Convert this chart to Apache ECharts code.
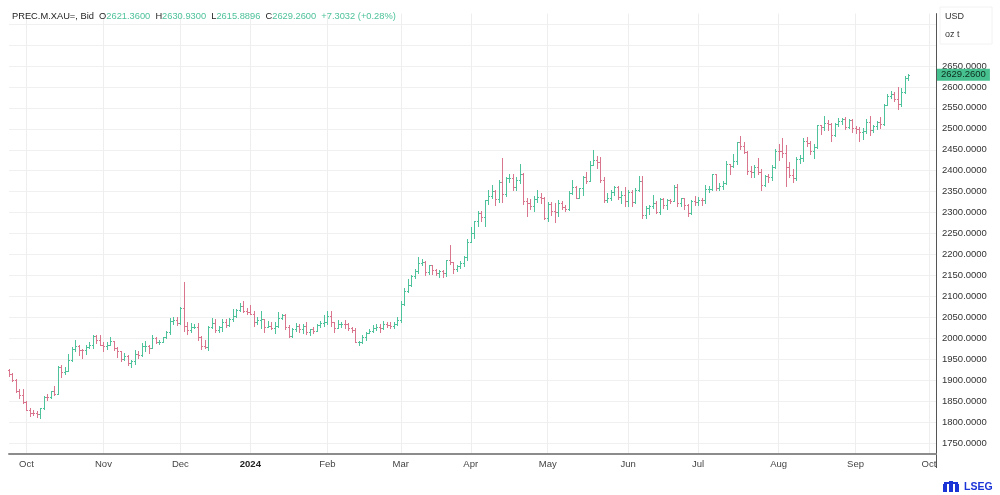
<!DOCTYPE html>
<html>
<head>
<meta charset="utf-8">
<title>PREC.M.XAU=</title>
<script src="https://cdn.jsdelivr.net/npm/echarts@6/dist/echarts.min.js"></script>
<style>
  html, body { margin: 0; padding: 0; background: #fff; }
  #chart { width: 1000px; height: 495px; }
</style>
</head>
<body>
<div id="chart"></div>
<script>
// trading calendar (weekdays, minus market holidays)
var firstDay = '2023-09-25';
var lastDay = '2024-10-03';
var holidays = ['2023-12-25', '2024-01-01', '2024-03-29'];
var monthNames = ['Jan', 'Feb', 'Mar', 'Apr', 'May', 'Jun', 'Jul', 'Aug', 'Sep', 'Oct', 'Nov', 'Dec'];

// daily bars, one per trading day from firstDay: [open, high, low, close]
var bars = [
    // Sep 2023
    [1925, 1926, 1911, 1915], [1915, 1917, 1898, 1901], [1901, 1903, 1871, 1875], [1875, 1880, 1858, 1864], [1864, 1880, 1846, 1849],
    // Oct
    [1849, 1850, 1828, 1828], [1828, 1834, 1815, 1822], [1822, 1829, 1816, 1821], [1821, 1826, 1813, 1820], [1820, 1834, 1810, 1833],
    [1833, 1862, 1832, 1861], [1861, 1866, 1852, 1860], [1860, 1875, 1858, 1874], [1874, 1885, 1865, 1868], [1868, 1933, 1867, 1932],
    [1932, 1937, 1908, 1920], [1920, 1932, 1914, 1923], [1923, 1962, 1922, 1947], [1947, 1980, 1945, 1974], [1974, 1997, 1970, 1981],
    [1981, 1985, 1961, 1973], [1973, 1975, 1953, 1971], [1971, 1983, 1962, 1979], [1979, 1990, 1976, 1985], [1985, 2009, 1977, 2006],
    [2006, 2009, 1988, 1996], [1996, 2008, 1983, 1983],
    // Nov
    [1983, 1991, 1970, 1982], [1982, 1992, 1975, 1985], [1985, 2003, 1983, 1993],
    [1993, 1993, 1971, 1978], [1978, 1979, 1955, 1969], [1969, 1969, 1945, 1950], [1950, 1965, 1947, 1958], [1958, 1960, 1936, 1940],
    [1940, 1947, 1932, 1946], [1946, 1971, 1939, 1963], [1963, 1970, 1953, 1959], [1959, 1988, 1957, 1981], [1981, 1993, 1970, 1981],
    [1981, 1984, 1965, 1978], [1978, 2008, 1976, 2000], [2000, 2003, 1988, 1990], [1990, 1997, 1986, 1992], [1992, 2004, 1990, 2002],
    [2002, 2018, 2000, 2014], [2014, 2048, 2011, 2041], [2041, 2052, 2035, 2044], [2044, 2051, 2031, 2036],
    // Dec
    [2036, 2075, 2035, 2072],
    [2072, 2135, 2018, 2029], [2029, 2038, 2010, 2019], [2019, 2036, 2016, 2026], [2026, 2035, 2024, 2028], [2028, 2036, 1996, 2004],
    [2004, 2006, 1975, 1981], [1981, 1995, 1976, 1980], [1980, 2029, 1973, 2027], [2027, 2048, 2024, 2036], [2036, 2047, 2016, 2019],
    [2019, 2029, 2015, 2028], [2028, 2047, 2017, 2040], [2040, 2045, 2026, 2031], [2031, 2049, 2030, 2045], [2045, 2071, 2042, 2053],
    [2053, 2069, 2052, 2067], [2067, 2084, 2065, 2077], [2077, 2088, 2062, 2065], [2065, 2073, 2058, 2063],
    // Jan 2024
    [2063, 2079, 2057, 2059], [2059, 2065, 2030, 2040], [2040, 2050, 2035, 2043], [2043, 2064, 2024, 2045],
    [2045, 2046, 2016, 2027], [2027, 2041, 2026, 2030], [2030, 2040, 2021, 2024], [2024, 2040, 2013, 2029], [2029, 2062, 2028, 2049],
    [2049, 2059, 2045, 2055], [2055, 2058, 2023, 2028], [2028, 2031, 2002, 2006], [2006, 2025, 2004, 2023], [2023, 2036, 2018, 2029],
    [2029, 2033, 2016, 2021], [2021, 2034, 2012, 2029], [2029, 2038, 2011, 2014], [2014, 2023, 2009, 2021], [2021, 2026, 2013, 2018],
    [2018, 2035, 2017, 2032], [2032, 2041, 2027, 2037], [2037, 2056, 2030, 2039],
    // Feb
    [2039, 2065, 2035, 2054], [2054, 2066, 2030, 2039],
    [2039, 2040, 2014, 2025], [2025, 2043, 2024, 2035], [2035, 2040, 2028, 2035], [2035, 2044, 2025, 2034], [2034, 2037, 2019, 2024],
    [2024, 2028, 2015, 2020], [2020, 2025, 1990, 1992], [1992, 1994, 1984, 1992], [1992, 2009, 1988, 2004], [2004, 2016, 1996, 2013],
    [2013, 2021, 2012, 2018], [2018, 2031, 2016, 2024], [2024, 2033, 2020, 2026], [2026, 2035, 2015, 2024], [2024, 2041, 2022, 2035],
    [2035, 2038, 2026, 2031], [2031, 2038, 2025, 2029], [2029, 2039, 2024, 2034], [2034, 2052, 2032, 2044],
    // Mar
    [2044, 2088, 2039, 2083],
    [2083, 2119, 2079, 2114], [2114, 2141, 2110, 2128], [2128, 2152, 2124, 2148], [2148, 2165, 2145, 2160], [2160, 2195, 2156, 2179],
    [2179, 2189, 2176, 2182], [2182, 2185, 2150, 2158], [2158, 2175, 2153, 2174], [2174, 2175, 2154, 2162], [2162, 2165, 2152, 2155],
    [2155, 2164, 2146, 2160], [2160, 2163, 2146, 2157], [2157, 2187, 2148, 2186], [2186, 2222, 2178, 2181], [2181, 2183, 2156, 2165],
    [2165, 2176, 2160, 2172], [2172, 2185, 2168, 2179], [2179, 2196, 2172, 2194], [2194, 2236, 2186, 2230],
    // Apr
    [2230, 2266, 2229, 2251], [2251, 2281, 2240, 2280], [2280, 2305, 2268, 2300], [2300, 2305, 2279, 2290], [2290, 2331, 2268, 2329],
    [2329, 2354, 2321, 2339], [2339, 2365, 2336, 2352], [2352, 2354, 2319, 2333], [2333, 2378, 2325, 2372], [2372, 2431, 2326, 2344],
    [2344, 2385, 2340, 2383], [2383, 2392, 2372, 2383], [2383, 2392, 2354, 2361], [2361, 2385, 2355, 2379], [2379, 2417, 2370, 2392],
    [2392, 2395, 2321, 2327], [2327, 2334, 2292, 2322], [2322, 2333, 2309, 2316], [2316, 2339, 2305, 2332], [2332, 2353, 2325, 2337],
    [2337, 2346, 2322, 2335], [2335, 2337, 2285, 2286],
    // May
    [2286, 2326, 2280, 2320], [2320, 2326, 2295, 2304], [2304, 2324, 2277, 2301],
    [2301, 2331, 2291, 2323], [2323, 2327, 2309, 2314], [2314, 2317, 2303, 2309], [2309, 2351, 2306, 2346], [2346, 2378, 2344, 2360],
    [2360, 2364, 2335, 2336], [2336, 2359, 2334, 2358], [2358, 2387, 2341, 2386], [2386, 2396, 2370, 2376], [2376, 2422, 2376, 2414],
    [2414, 2450, 2413, 2425], [2425, 2434, 2407, 2421], [2421, 2432, 2374, 2379], [2379, 2386, 2326, 2329], [2329, 2346, 2325, 2334],
    [2334, 2353, 2329, 2350], [2350, 2364, 2342, 2361], [2361, 2364, 2332, 2338], [2338, 2351, 2323, 2343], [2343, 2360, 2315, 2327],
    // Jun
    [2327, 2354, 2315, 2350], [2350, 2354, 2315, 2326], [2326, 2358, 2323, 2355], [2355, 2388, 2351, 2375], [2375, 2387, 2287, 2294],
    [2294, 2315, 2287, 2311], [2311, 2318, 2296, 2316], [2316, 2342, 2311, 2324], [2324, 2327, 2298, 2302], [2302, 2335, 2297, 2333],
    [2333, 2334, 2311, 2319], [2319, 2332, 2309, 2329], [2329, 2333, 2322, 2328], [2328, 2365, 2327, 2360], [2360, 2369, 2316, 2322],
    [2322, 2335, 2316, 2334], [2334, 2336, 2309, 2319], [2319, 2320, 2293, 2298], [2298, 2330, 2297, 2327], [2327, 2339, 2319, 2326],
    // Jul
    [2326, 2338, 2318, 2331], [2331, 2336, 2318, 2330], [2330, 2365, 2324, 2356], [2356, 2363, 2350, 2356], [2356, 2393, 2353, 2392],
    [2392, 2393, 2353, 2359], [2359, 2371, 2354, 2364], [2364, 2375, 2356, 2371], [2371, 2424, 2368, 2415], [2415, 2417, 2393, 2411],
    [2411, 2440, 2410, 2422], [2422, 2469, 2417, 2469], [2469, 2483, 2453, 2459], [2459, 2469, 2442, 2445], [2445, 2448, 2393, 2400],
    [2400, 2412, 2384, 2396], [2396, 2413, 2385, 2409], [2409, 2431, 2392, 2397], [2397, 2403, 2353, 2365], [2365, 2389, 2363, 2387],
    [2387, 2393, 2374, 2384], [2384, 2413, 2379, 2410], [2410, 2451, 2406, 2447],
    // Aug
    [2447, 2463, 2425, 2446], [2446, 2477, 2432, 2442],
    [2442, 2461, 2364, 2409], [2409, 2420, 2385, 2390], [2390, 2403, 2372, 2382], [2382, 2433, 2378, 2427], [2427, 2438, 2418, 2431],
    [2431, 2477, 2424, 2472], [2472, 2480, 2459, 2465], [2465, 2472, 2440, 2447], [2447, 2463, 2431, 2456], [2456, 2509, 2455, 2508],
    [2508, 2510, 2488, 2504], [2504, 2531, 2498, 2514], [2514, 2520, 2496, 2512], [2512, 2514, 2470, 2485], [2485, 2513, 2482, 2512],
    [2512, 2527, 2507, 2518], [2518, 2526, 2511, 2524], [2524, 2528, 2499, 2504], [2504, 2524, 2503, 2521], [2521, 2524, 2492, 2503],
    // Sep
    [2503, 2506, 2489, 2500], [2500, 2504, 2472, 2493], [2493, 2503, 2476, 2495], [2495, 2524, 2491, 2516], [2516, 2530, 2485, 2497],
    [2497, 2509, 2492, 2506], [2506, 2518, 2500, 2516], [2516, 2529, 2501, 2512], [2512, 2560, 2510, 2558], [2558, 2582, 2556, 2578],
    [2578, 2590, 2574, 2582], [2582, 2589, 2566, 2570], [2570, 2600, 2547, 2559], [2559, 2597, 2554, 2587], [2587, 2625, 2585, 2622],
    [2621.36, 2630.93, 2615.8896, 2629.26]
];

var ric = 'PREC.M.XAU=, Bid';
var change = 7.3032;
var changePct = 0.28;
var labelMin = 1750;
var labelMax = 2650;

var upColor = '#4ec29a';
var downColor = '#d9768d';
var font = '"Liberation Sans", Arial, sans-serif';

// build list of trading days
var dates = [];
var d = new Date(firstDay + 'T00:00:00Z');
var end = new Date(lastDay + 'T00:00:00Z');
while (d <= end) {
    var wd = d.getUTCDay();
    var s = d.toISOString().slice(0, 10);
    if (wd !== 0 && wd !== 6 && holidays.indexOf(s) < 0) {
        dates.push(s);
    }
    d.setUTCDate(d.getUTCDate() + 1);
}

function isMonthStart(idx) {
    return idx > 0 && dates[idx].slice(5, 7) !== dates[idx - 1].slice(5, 7);
}

var seriesData = bars.map(function (b, i) {
    return [i, b[0], b[1], b[2], b[3]];
});

var last = bars[bars.length - 1];

// OHLC bar: stem high-low, tick left = open, tick right = close
function renderBar(params, api) {
    var i = api.value(0);
    var o = api.coord([i, api.value(1)]);
    var h = api.coord([i, api.value(2)]);
    var l = api.coord([i, api.value(3)]);
    var c = api.coord([i, api.value(4)]);
    var x = Math.round(o[0]) + 0.5;
    var yo = Math.round(o[1]) + 0.5;
    var yc = Math.round(c[1]) + 0.5;
    var style = {
        stroke: api.value(4) >= api.value(1) ? upColor : downColor,
        lineWidth: 1
    };
    return {
        type: 'group',
        children: [
            { type: 'line', shape: { x1: x, y1: Math.round(h[1]), x2: x, y2: Math.round(l[1]) + 1 }, style: style },
            { type: 'line', shape: { x1: x - 1.5, y1: yo, x2: x - 0.5, y2: yo }, style: style },
            { type: 'line', shape: { x1: x + 0.5, y1: yc, x2: x + 1.5, y2: yc }, style: style }
        ]
    };
}

var chart = echarts.init(document.getElementById('chart'));

var option = {
    backgroundColor: '#fff',
    animation: false,
    textStyle: { fontFamily: font },
    title: {
        left: 12,
        top: 12,
        padding: 0,
        text: '{k|' + ric + '  O}{v|' + last[0].toFixed(4) + '}  {k|H}{v|' + last[1].toFixed(4) +
            '}  {k|L}{v|' + last[2].toFixed(4) + '}  {k|C}{v|' + last[3].toFixed(4) +
            '}  {v|+' + change.toFixed(4) + ' (+' + changePct.toFixed(2) + '%)}',
        textStyle: {
            fontSize: 9.3,
            fontWeight: 'normal',
            rich: {
                k: { color: '#222', fontSize: 9.3, fontFamily: font },
                v: { color: upColor, fontSize: 9.3, fontFamily: font }
            }
        }
    },
    grid: {
        left: 9,
        right: 64,
        top: 13.6,
        bottom: 41.5
    },
    xAxis: {
        type: 'category',
        data: dates,
        boundaryGap: false,
        axisLine: { lineStyle: { color: '#8c8c8c', width: 2 } },
        axisTick: { show: false },
        axisLabel: {
            interval: function (idx) { return isMonthStart(idx); },
            formatter: function (value) {
                var m = parseInt(value.slice(5, 7), 10);
                return m === 1 ? '{b|' + value.slice(0, 4) + '}' : monthNames[m - 1];
            },
            color: '#444',
            fontSize: 9.5,
            margin: 6,
            rich: { b: { fontWeight: 'bold', color: '#222', fontSize: 9.5 } }
        },
        splitLine: {
            show: true,
            interval: function (idx) { return isMonthStart(idx); },
            lineStyle: { color: '#eeeeee', width: 1 }
        }
    },
    yAxis: {
        type: 'value',
        position: 'right',
        min: 1725,
        max: 2775,
        interval: 25,
        axisLine: { show: true, lineStyle: { color: '#555', width: 1 } },
        axisTick: { show: false },
        axisLabel: {
            formatter: function (v) {
                return (v % 50 === 0 && v >= labelMin && v <= labelMax) ? v.toFixed(4) : '';
            },
            color: '#333',
            fontSize: 9.5,
            margin: 6
        },
        splitLine: {
            show: true,
            lineStyle: { color: ['transparent', '#f0f0f0'], width: 1 }
        }
    },
    series: [
        {
            type: 'custom',
            name: 'XAU',
            renderItem: renderBar,
            encode: { x: 0, y: [1, 2, 3, 4] },
            data: seriesData,
            markLine: {
                silent: true,
                symbol: 'none',
                animation: false,
                lineStyle: { color: 'rgba(0,0,0,0)', width: 1, type: 'solid' },
                data: [{ yAxis: last[3] }],
                label: {
                    show: true,
                    position: 'end',
                    distance: 1,
                    formatter: last[3].toFixed(4),
                    backgroundColor: '#45c08e',
                    color: '#0d2b1d',
                    fontSize: 9.5,
                    padding: [1, 4, 1, 4]
                }
            }
        }
    ],
    graphic: [
        { type: 'rect', shape: { x: 940, y: 7, width: 52, height: 37 }, style: { fill: '#fff', stroke: '#f2f2f2' } },
        { type: 'text', x: 945, y: 17, style: { text: 'USD', font: '9px ' + font, fill: '#333', verticalAlign: 'middle' } },
        { type: 'text', x: 945, y: 35, style: { text: 'oz t', font: '9px ' + font, fill: '#333', verticalAlign: 'middle' } },
        { type: 'line', shape: { x1: 936.5, y1: 453, x2: 936.5, y2: 468 }, style: { stroke: '#555', lineWidth: 1 } },
        // small logo mark next to the brand name
        {
            type: 'group',
            x: 943,
            y: 481,
            children: [
                { type: 'rect', shape: { x: 0, y: 3, width: 4, height: 8 }, style: { fill: '#1b34d6' } },
                { type: 'rect', shape: { x: 6, y: 0, width: 4, height: 11 }, style: { fill: '#1b34d6' } },
                { type: 'rect', shape: { x: 12, y: 3, width: 4, height: 8 }, style: { fill: '#1b34d6' } },
                { type: 'rect', shape: { x: 1, y: 1, width: 14, height: 2 }, style: { fill: '#1b34d6' } }
            ]
        },
        { type: 'text', x: 964, y: 487, style: { text: 'LSEG', font: 'bold 10.5px ' + font, fill: '#1b34d6', verticalAlign: 'middle' } }
    ]
};

chart.setOption(option);
</script>
</body>
</html>
